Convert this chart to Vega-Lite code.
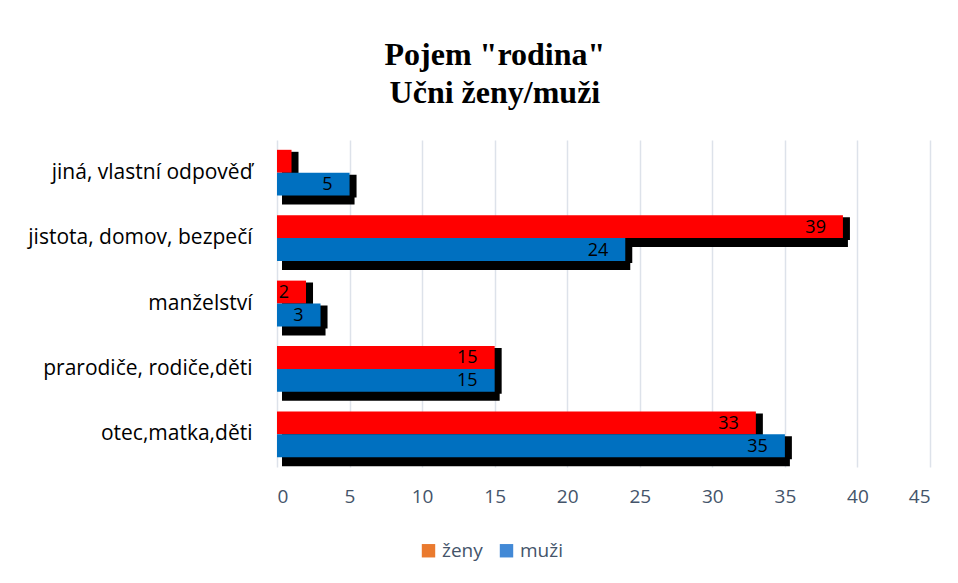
{
  "$schema": "https://vega.github.io/schema/vega-lite/v6.json",
  "width": 653,
  "height": 327,
  "autosize": "none",
  "padding": {"left": 277, "top": 140, "right": 28, "bottom": 116},
  "background": "white",
  "title": {
    "text": ["Pojem \"rodina\"", "Učni ženy/muži"],
    "font": "Liberation Serif",
    "fontSize": 32,
    "fontWeight": "bold",
    "color": "black",
    "anchor": "middle",
    "frame": "bounds",
    "dx": 16,
    "lineHeight": 38,
    "offset": 30
  },
  "datasets": {
    "bars": [
      {"kat": "jiná, vlastní odpověď", "pohlavi": "ženy", "pocet": 1},
      {"kat": "jiná, vlastní odpověď", "pohlavi": "muži", "pocet": 5},
      {"kat": "jistota, domov, bezpečí", "pohlavi": "ženy", "pocet": 39},
      {"kat": "jistota, domov, bezpečí", "pohlavi": "muži", "pocet": 24},
      {"kat": "manželství", "pohlavi": "ženy", "pocet": 2},
      {"kat": "manželství", "pohlavi": "muži", "pocet": 3},
      {"kat": "prarodiče, rodiče,děti", "pohlavi": "ženy", "pocet": 15},
      {"kat": "prarodiče, rodiče,děti", "pohlavi": "muži", "pocet": 15},
      {"kat": "otec,matka,děti", "pohlavi": "ženy", "pocet": 33},
      {"kat": "otec,matka,děti", "pohlavi": "muži", "pocet": 35}
    ],
    "legenda": [
      {"skupina": "ženy"},
      {"skupina": "muži"}
    ]
  },
  "layer": [
    {
      "data": {"name": "bars"},
      "encoding": {
        "y": {
          "field": "kat",
          "type": "nominal",
          "sort": ["jiná, vlastní odpověď", "jistota, domov, bezpečí", "manželství", "prarodiče, rodiče,děti", "otec,matka,děti"],
          "scale": {"paddingInner": 0.3, "paddingOuter": 0.15},
          "axis": {
            "title": null,
            "domain": false,
            "ticks": false,
            "labelFont": "Open Sans",
            "labelFontSize": 21,
            "labelColor": "black",
            "labelPadding": 25,
            "labelLimit": 0
          }
        },
        "x": {
          "field": "pocet",
          "type": "quantitative",
          "scale": {"domain": [0, 45], "nice": false},
          "axis": {
            "title": null,
            "values": [0, 5, 10, 15, 20, 25, 30, 35, 40, 45],
            "domain": false,
            "ticks": false,
            "grid": true,
            "gridColor": "#DDE2EA",
            "gridWidth": 1.5,
            "labelFont": "Open Sans",
            "labelFontSize": 19,
            "labelColor": "#44546A",
            "labelPadding": 20
          }
        }
      },
      "layer": [
        {
          "mark": {"type": "bar", "color": "black", "xOffset": 7, "x2Offset": -7},
          "encoding": {
            "yOffset": {"field": "pohlavi", "sort": ["ženy", "muži"], "scale": {"paddingInner": 0, "range": [2, 47.78]}}
          }
        },
        {
          "mark": {"type": "bar", "color": "black", "xOffset": 5, "x2Offset": -5},
          "encoding": {
            "yOffset": {"field": "pohlavi", "sort": ["ženy", "muži"], "scale": {"paddingInner": 0, "range": [9, 54.78]}}
          }
        },
        {
          "mark": {"type": "bar"},
          "encoding": {
            "yOffset": {"field": "pohlavi", "sort": ["ženy", "muži"], "scale": {"paddingInner": 0}},
            "fill": {
              "field": "pohlavi",
              "type": "nominal",
              "sort": ["ženy", "muži"],
              "scale": {"range": ["#FF0000", "#0070C0"]},
              "legend": null
            }
          }
        },
        {
          "transform": [{"filter": "datum.pocet > 1"}],
          "mark": {"type": "text", "align": "right", "baseline": "middle", "dx": -17, "dy": 1, "font": "Open Sans", "fontSize": 18, "color": "black"},
          "encoding": {
            "yOffset": {"field": "pohlavi", "sort": ["ženy", "muži"], "scale": {"paddingInner": 0}},
            "text": {"field": "pocet", "type": "quantitative"}
          }
        }
      ],
      "resolve": {"scale": {"yOffset": "independent"}}
    },
    {
      "data": {"name": "legenda"},
      "mark": {"type": "square", "size": 0},
      "encoding": {
        "color": {
          "field": "skupina",
          "type": "nominal",
          "scale": {"domain": ["ženy", "muži"], "range": ["#EA7A2E", "#4289D6"]},
          "legend": {
            "orient": "none",
            "legendX": 142,
            "legendY": 401,
            "direction": "horizontal",
            "title": null,
            "symbolType": "square",
            "symbolSize": 180,
            "symbolOpacity": 1,
            "symbolStrokeWidth": 0,
            "labelFont": "Open Sans",
            "labelFontSize": 19,
            "labelColor": "#44546A",
            "columnPadding": 14,
            "labelOffset": 4
          }
        }
      }
    }
  ],
  "config": {"view": {"stroke": null}}
}
